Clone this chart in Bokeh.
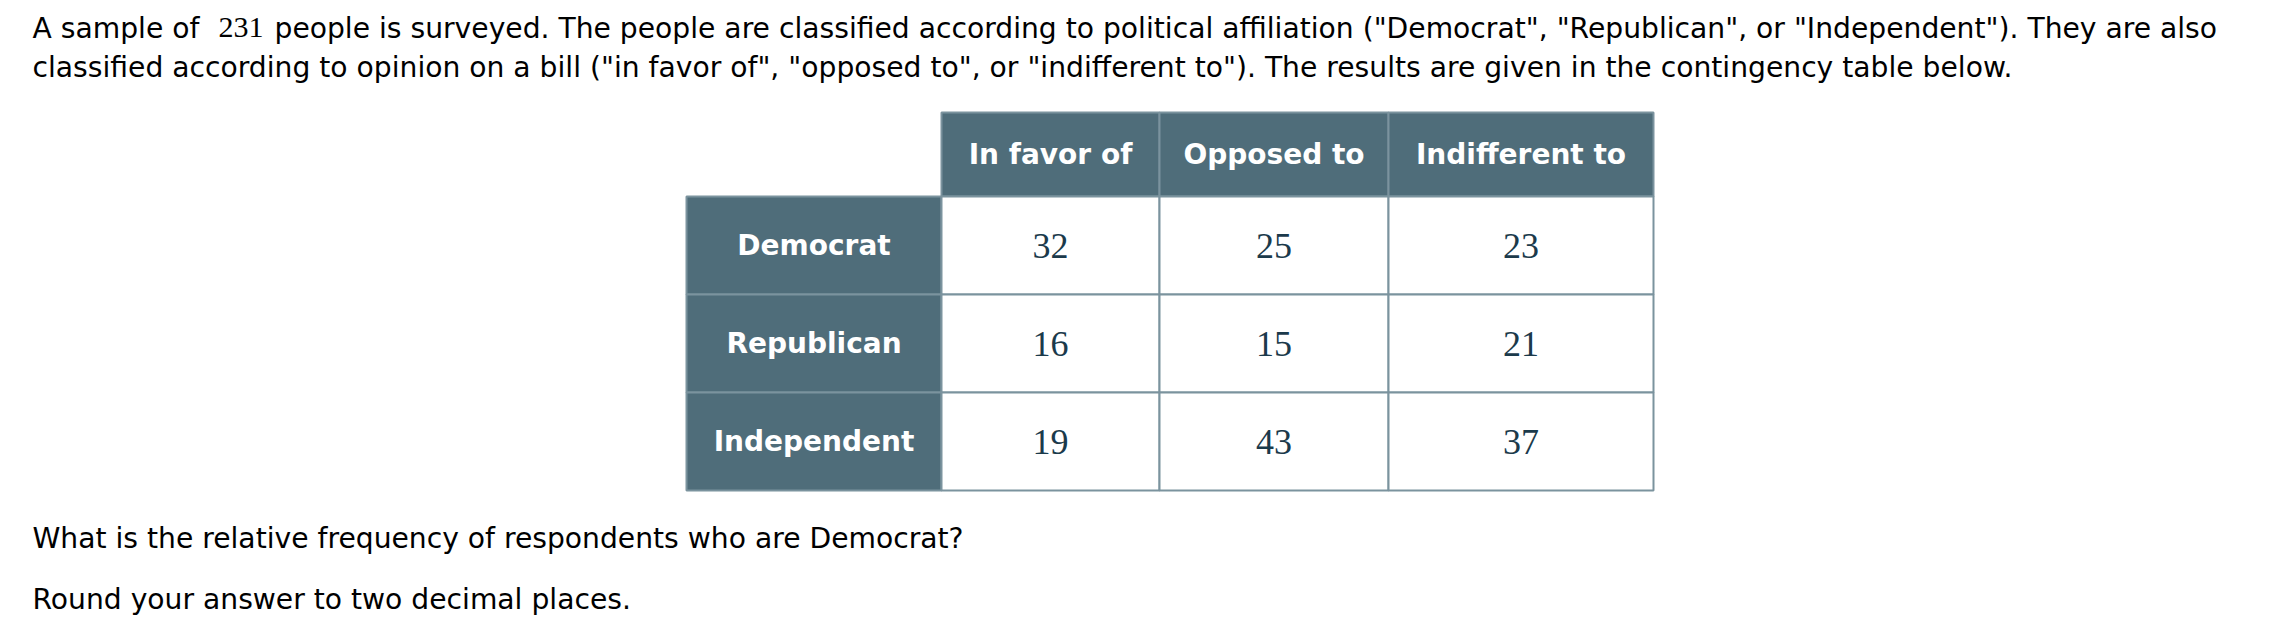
from bokeh.plotting import figure
from bokeh.models import Range1d, ColumnDataSource
from bokeh.core.properties import value
from bokeh.embed import file_html
from bokeh.resources import INLINE

# ---------------- data ----------------
sample_size = 231
affiliations = ["Democrat", "Republican", "Independent"]
opinions = ["In favor of", "Opposed to", "Indifferent to"]
democrat = [32, 25, 23]
republican = [16, 15, 21]
independent = [19, 43, 37]
counts = [democrat, republican, independent]

intro_prefix = "A sample of"
intro_suffix_1 = ('people is surveyed. The people are classified according to political '
                  'affiliation ("Democrat", "Republican", or "Independent"). They are also')
intro_line_2 = ('classified according to opinion on a bill ("in favor of", "opposed to", or '
                '"indifferent to"). The results are given in the contingency table below.')
question = "What is the relative frequency of respondents who are Democrat?"
instruction = "Round your answer to two decimal places."

# ---------------- layout / style ----------------
W, H = 2270, 622
HEAD_FILL = "#4f6d7a"
BORDER = "#7b939e"
NUM_COLOR = "#1b3a4b"
SANS = "DejaVu Sans"
SERIF = "Liberation Serif"

table_left = 686
stub_w = 255
col_ws = [218, 229, 265]
table_top = 112
head_h = 84
row_h = 98

p = figure(width=W, height=H, output_backend="svg", toolbar_location=None,
           x_range=Range1d(0, W), y_range=Range1d(H, 0), min_border=0,
           outline_line_color=None, x_axis_location=None, y_axis_location=None)
p.grid.visible = False
p.background_fill_color = "white"
p.border_fill_color = "white"

# column edges
col_left = [table_left + stub_w]
for w in col_ws[:-1]:
    col_left.append(col_left[-1] + w)
col_right = [l + w for l, w in zip(col_left, col_ws)]
col_center = [(l + r) / 2 for l, r in zip(col_left, col_right)]

# header cells
hdr = ColumnDataSource(dict(left=col_left, right=col_right,
                            top=[table_top] * len(opinions),
                            bottom=[table_top + head_h] * len(opinions),
                            x=col_center, y=[table_top + head_h / 2] * len(opinions),
                            label=opinions))
p.quad(left="left", right="right", top="top", bottom="bottom", source=hdr,
       fill_color=HEAD_FILL, line_color=BORDER, line_width=2)
p.text(x="x", y="y", text="label", source=hdr, text_color="white",
       text_font=value(SANS), text_font_style="bold", text_font_size="28px",
       text_align="center", text_baseline="middle")

# stub cells
row_top = [table_top + head_h + i * row_h for i in range(len(affiliations))]
row_bot = [t + row_h for t in row_top]
row_mid = [(t + b) / 2 for t, b in zip(row_top, row_bot)]
stub = ColumnDataSource(dict(left=[table_left] * len(affiliations),
                             right=[table_left + stub_w] * len(affiliations),
                             top=row_top, bottom=row_bot,
                             x=[table_left + stub_w / 2] * len(affiliations),
                             y=row_mid, label=affiliations))
p.quad(left="left", right="right", top="top", bottom="bottom", source=stub,
       fill_color=HEAD_FILL, line_color=BORDER, line_width=2)
p.text(x="x", y="y", text="label", source=stub, text_color="white",
       text_font=value(SANS), text_font_style="bold", text_font_size="28px",
       text_align="center", text_baseline="middle")

# data cells
L, R, T, B, X, Y, V = [], [], [], [], [], [], []
for i, row in enumerate(counts):
    for j, v in enumerate(row):
        L.append(col_left[j]); R.append(col_right[j])
        T.append(row_top[i]); B.append(row_bot[i])
        X.append(col_center[j]); Y.append(row_mid[i]); V.append(str(v))
cells = ColumnDataSource(dict(left=L, right=R, top=T, bottom=B, x=X, y=Y, label=V))
p.quad(left="left", right="right", top="top", bottom="bottom", source=cells,
       fill_color="white", line_color=BORDER, line_width=2)
p.text(x="x", y="y", text="label", source=cells, text_color=NUM_COLOR,
       text_font=value(SERIF), text_font_size="36px",
       text_align="center", text_baseline="middle")

# paragraph text
txt_kw = dict(text_color="black", text_font=value(SANS), text_font_size="28.2px",
              text_align="left", text_baseline="middle")
p.text(x=[32], y=[28], text=[intro_prefix], **txt_kw)
p.text(x=[218], y=[27], text=[str(sample_size)], text_color="black",
       text_font=value(SERIF), text_font_size="30px",
       text_align="left", text_baseline="middle")
p.text(x=[274], y=[28], text=[intro_suffix_1], **txt_kw)
p.text(x=[32], y=[67], text=[intro_line_2], **txt_kw)
p.text(x=[32], y=[538], text=[question], **txt_kw)
p.text(x=[32], y=[599], text=[instruction], **txt_kw)

open("out.html", "w").write(file_html(p, INLINE))
